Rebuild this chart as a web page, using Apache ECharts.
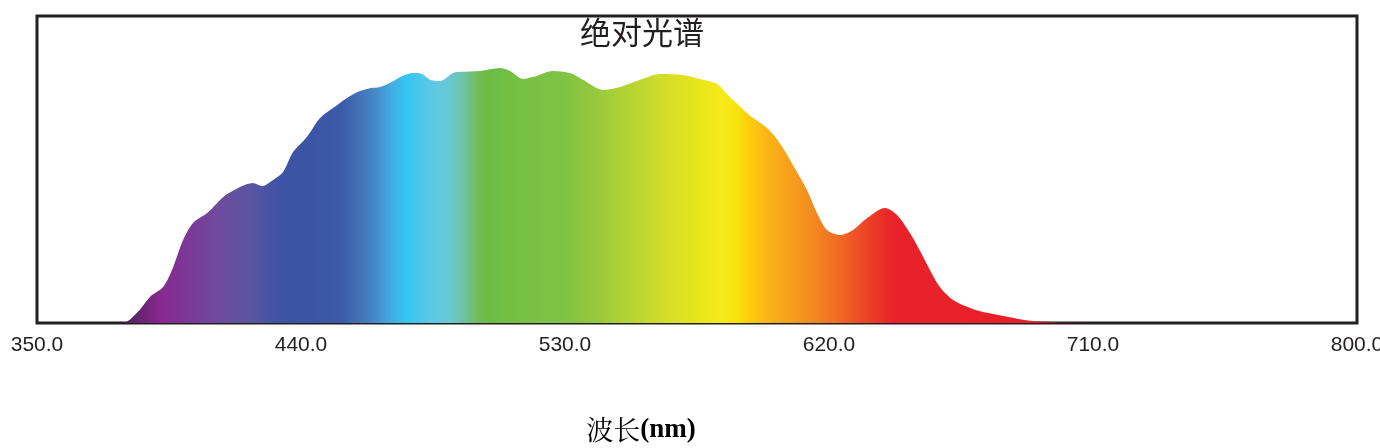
<!DOCTYPE html>
<html>
<head>
<meta charset="utf-8">
<script src="https://cdn.jsdelivr.net/npm/echarts@6/dist/echarts.min.js"></script>
<style>
html,body{margin:0;padding:0;background:#fff;}
#chart{width:1380px;height:448px;}
</style>
</head>
<body>
<div id="chart"></div>
<script>
// ---- data ----
const wavelengths = [350, 379.3, 384.1, 388.5, 393.0, 396.4, 399.8, 403.2, 408.0, 413.4, 419.2, 423.6, 426.7, 430.5, 433.9, 437.3, 442.0, 446.5, 450.9, 455.7, 459.1, 463.5, 466.9, 470.3, 474.8, 478.2, 481.3, 484.0, 487.4, 491.8, 494.2, 501.0, 507.8, 511.3, 515.7, 519.1, 525.9, 531.7, 536.1, 543.0, 548.8, 555.6, 562.4, 570.2, 576.0, 581.8, 585.2, 588.6, 593.1, 598.9, 603.3, 607.7, 612.5, 615.9, 619.3, 623.8, 628.2, 633.0, 639.1, 643.2, 647.6, 651.0, 654.4, 657.8, 662.3, 668.1, 673.9, 680.7, 688.5, 696.4, 710, 800];
const intensity = [0, 0, 3.3, 8.5, 11.7, 18.2, 27.0, 32.6, 35.8, 41.0, 44.3, 45.6, 44.6, 46.6, 49.2, 55.7, 60.6, 66.8, 70.0, 73.3, 75.2, 76.5, 76.9, 78.2, 80.5, 81.4, 81.1, 79.2, 78.8, 81.4, 81.8, 82.1, 83.1, 82.1, 79.5, 80.1, 82.1, 81.4, 79.2, 75.9, 76.9, 79.2, 81.1, 80.8, 79.5, 77.9, 74.5, 71.5, 67.5, 63.5, 58.5, 51.5, 43.3, 35.8, 30.3, 28.7, 30.3, 34.2, 37.5, 35.2, 29.3, 23.5, 17.3, 11.7, 7.5, 4.9, 3.3, 2.0, 0.7, 0.3, 0, 0];
const xTicks = [350, 440, 530, 620, 710, 800];
const titleText = '绝对光谱';
const xName = ['波长', '(nm)'];

// ---- style: spectrum gradient stops (wavelength -> colour) ----
const stopWl = [379, 382, 392, 403, 412, 423, 432, 443, 454, 464, 471, 476, 484, 490, 495, 500, 503, 522, 528, 540, 551, 562, 574, 583, 589, 594, 602, 614, 625, 634, 642, 690, 700, 800];
const stopColors = ['#4f1d55','#5c2063','#86288f','#7a3b98','#6e4b9d','#5a55a2','#3e53a4','#3b55a5','#3b5ba8','#4682c4','#41aee2','#34c6f2','#5cc8e6','#67c9d6','#6ec3ab','#71bd5a','#6cbd45','#7cc243','#7dc242','#95c83d','#b4d334','#cfdc2a','#e6e41c','#f5ea1a','#f9e20c','#fdc70e','#f9ac19','#f48c20','#ef6424','#ec3d26','#e9222a','#e91f27','#5a2020','#3a2020'];

const xMin = xTicks[0], xMax = xTicks[xTicks.length - 1];
const stops = stopWl.map((w, i) => ({ offset: (w - xMin) / (xMax - xMin), color: stopColors[i] }));
const seriesData = wavelengths.map((w, i) => [w, intensity[i]]);

const chart = echarts.init(document.getElementById('chart'), null, { renderer: 'canvas' });
chart.setOption({
  animation: false,
  backgroundColor: '#fff',
  grid: {
    left: 37, right: 23, top: 16, bottom: 125,
    containLabel: false, outerBoundsMode: 'none',
    show: true, borderColor: '#231f20', borderWidth: 3, backgroundColor: 'transparent'
  },
  xAxis: {
    type: 'value', min: xMin, max: xMax, interval: 90,
    axisLine: { show: false }, axisTick: { show: false }, splitLine: { show: false },
    axisLabel: {
      margin: 12, fontSize: 21, color: '#231f20',
      fontFamily: "'Liberation Sans', Arial, sans-serif",
      formatter: v => v.toFixed(1), showMinLabel: true, showMaxLabel: true,
      hideOverlap: false
    }
  },
  yAxis: { type: 'value', min: 0, max: 100, show: false },
  series: [{
    type: 'line', data: seriesData, symbol: 'none', smooth: 0.3,
    lineStyle: { width: 0 },
    areaStyle: { opacity: 1, color: new echarts.graphic.LinearGradient(0, 0, 1, 0, stops) },
    z: 1
  }],
  graphic: [
    { type: 'text', x: 642, y: 32, z: 10,
      style: { text: titleText, align: 'center', verticalAlign: 'middle',
               font: "normal 31px 'Noto Sans CJK SC', sans-serif", fill: '#231f20' } },
    { type: 'text', x: 641, y: 430, z: 10,
      style: { text: '{a|' + xName[0] + '}{b|' + xName[1] + '}', align: 'center', verticalAlign: 'middle',
               rich: {
                 a: { fontSize: 27, fontFamily: "'Noto Serif CJK SC', 'Noto Sans CJK SC', serif", color: '#231f20' },
                 b: { fontSize: 27, fontWeight: 'bold', fontFamily: "'Liberation Serif', 'Times New Roman', serif", color: '#231f20' }
               } } }
  ]
});
</script>
</body>
</html>
